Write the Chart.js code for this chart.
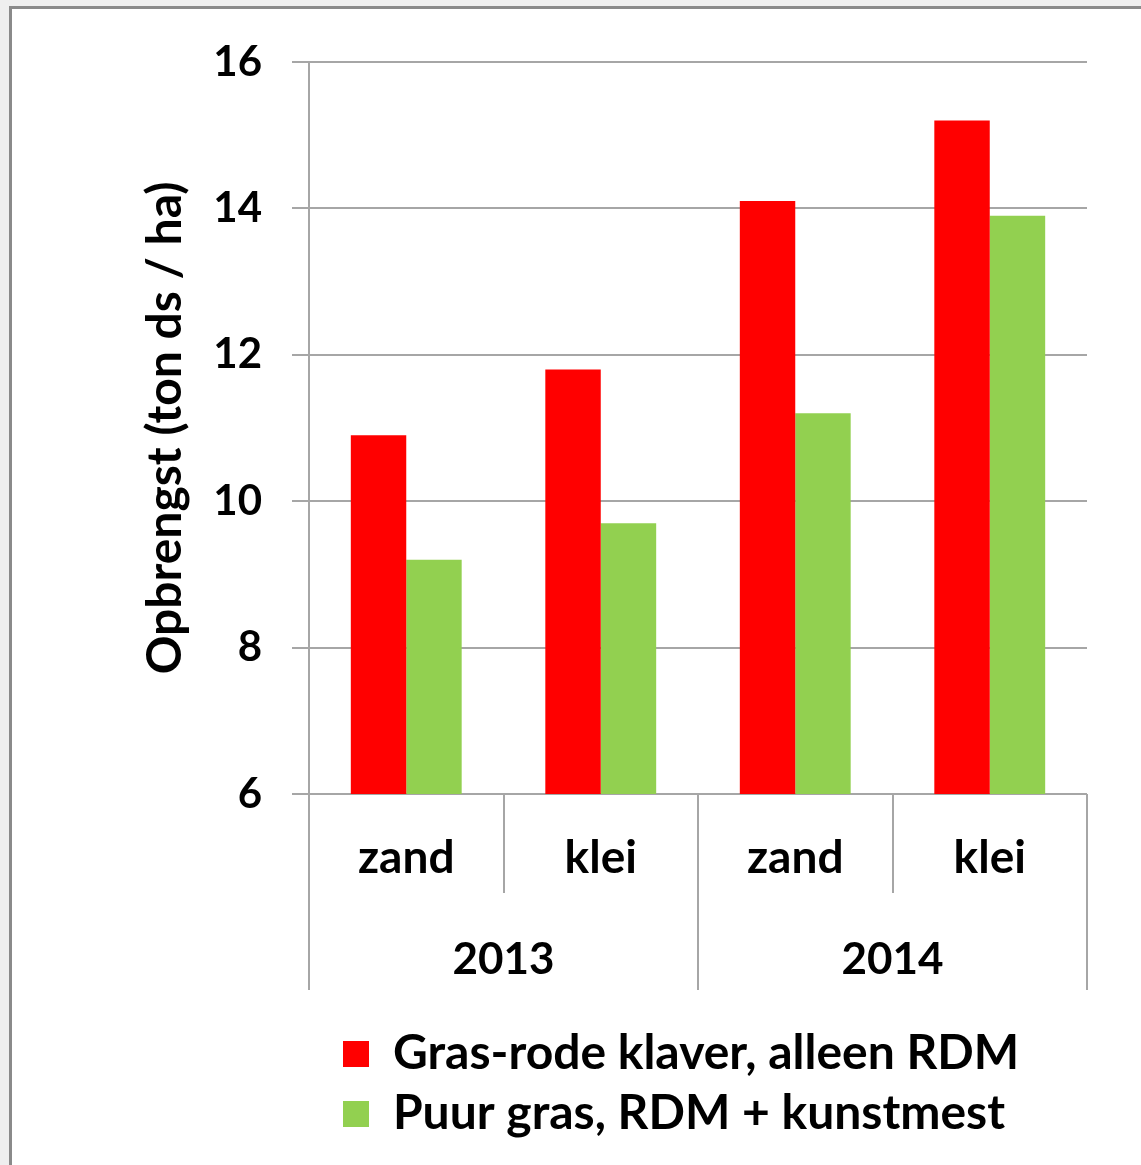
<!DOCTYPE html>
<html>
<head>
<meta charset="utf-8">
<script src="https://cdn.jsdelivr.net/npm/chart.js@4.4.0/dist/chart.umd.min.js"></script>
<style>
  body { margin: 0; background: #efefef; width: 1141px; height: 1165px; overflow: hidden; }
  #frame { position: absolute; left: 9px; top: 6px; width: 1200px; height: 1200px; border: 3px solid #8a8a8a; background: #fff; }
  #wrap { position: absolute; left: 0; top: 0; width: 1141px; height: 1165px; }
</style>
</head>
<body>
<div id="frame"></div>
<div id="wrap"><canvas id="graph"></canvas></div>
<script>
var soilLabels = ['zand', 'klei', 'zand', 'klei'];
var yearLabels = ['2013', '2014'];
var klaverData = [10.9, 11.8, 14.1, 15.2];
var grasData = [9.2, 9.7, 11.2, 13.9];
var seriesNames = ['Gras-rode klaver, alleen RDM', 'Puur gras, RDM + kunstmest'];
var yTitle = 'Opbrengst (ton ds / ha)';

var fontName = 'Lato';
var gridColor = '#a6a6a6';

// legenda links uitlijnen zoals in het origineel
const legendShift = {
  id: 'legendShift',
  afterLayout: function (chart) {
    chart.legend.left = 331;
  }
};

const graphData = {
  labels: soilLabels,
  datasets: [
    {
      label: seriesNames[0],
      backgroundColor: '#ff0000',
      data: klaverData,
      xAxisID: 'x'
    },
    {
      label: seriesNames[1],
      backgroundColor: '#92d050',
      data: grasData,
      xAxisID: 'x'
    }
  ]
};

const config = {
  type: 'bar',
  data: graphData,
  plugins: [legendShift],
  options: {
    responsive: true,
    maintainAspectRatio: false,
    animation: false,
    categoryPercentage: 0.57,
    barPercentage: 1.0,
    layout: {
      padding: { left: 0, right: 54, top: 62, bottom: 17 }
    },
    plugins: {
      tooltip: { enabled: false },
      legend: {
        position: 'bottom',
        align: 'start',
        labels: {
          color: '#000',
          font: { family: fontName, size: 48, weight: 'bold' },
          boxWidth: 26,
          boxHeight: 26,
          padding: 12
        }
      }
    },
    scales: {
      x: {
        type: 'category',
        position: 'bottom',
        offset: true,
        grid: {
          offset: true,
          drawOnChartArea: false,
          color: gridColor,
          lineWidth: 2,
          tickLength: 99
        },
        border: { display: false },
        ticks: {
          color: '#000',
          font: { family: fontName, size: 46, weight: 'bold' },
          padding: -62
        },
        afterFit: function (scale) { scale.height = 99; }
      },
      year: {
        type: 'category',
        position: 'bottom',
        labels: yearLabels,
        offset: true,
        grid: {
          offset: true,
          drawOnChartArea: false,
          color: gridColor,
          lineWidth: 2,
          tickLength: 97
        },
        border: { display: false },
        ticks: {
          color: '#000',
          font: { family: fontName, size: 44, weight: 'bold' },
          padding: -57
        },
        afterFit: function (scale) { scale.height = 125; }
      },
      y: {
        min: 6,
        max: 16,
        ticks: {
          stepSize: 2,
          color: '#000',
          font: { family: fontName, size: 42, weight: 'bold' },
          padding: 30
        },
        grid: {
          color: gridColor,
          lineWidth: 2,
          tickLength: 17
        },
        border: { color: gridColor, width: 2 },
        title: {
          display: true,
          text: yTitle,
          color: '#000',
          font: { family: fontName, size: 48, weight: 'bold' },
          padding: { top: 137, bottom: 0 }
        },
        afterFit: function (scale) { scale.width = 309; }
      }
    }
  }
};

var myChart = new Chart(document.getElementById('graph'), config);
</script>
</body>
</html>
